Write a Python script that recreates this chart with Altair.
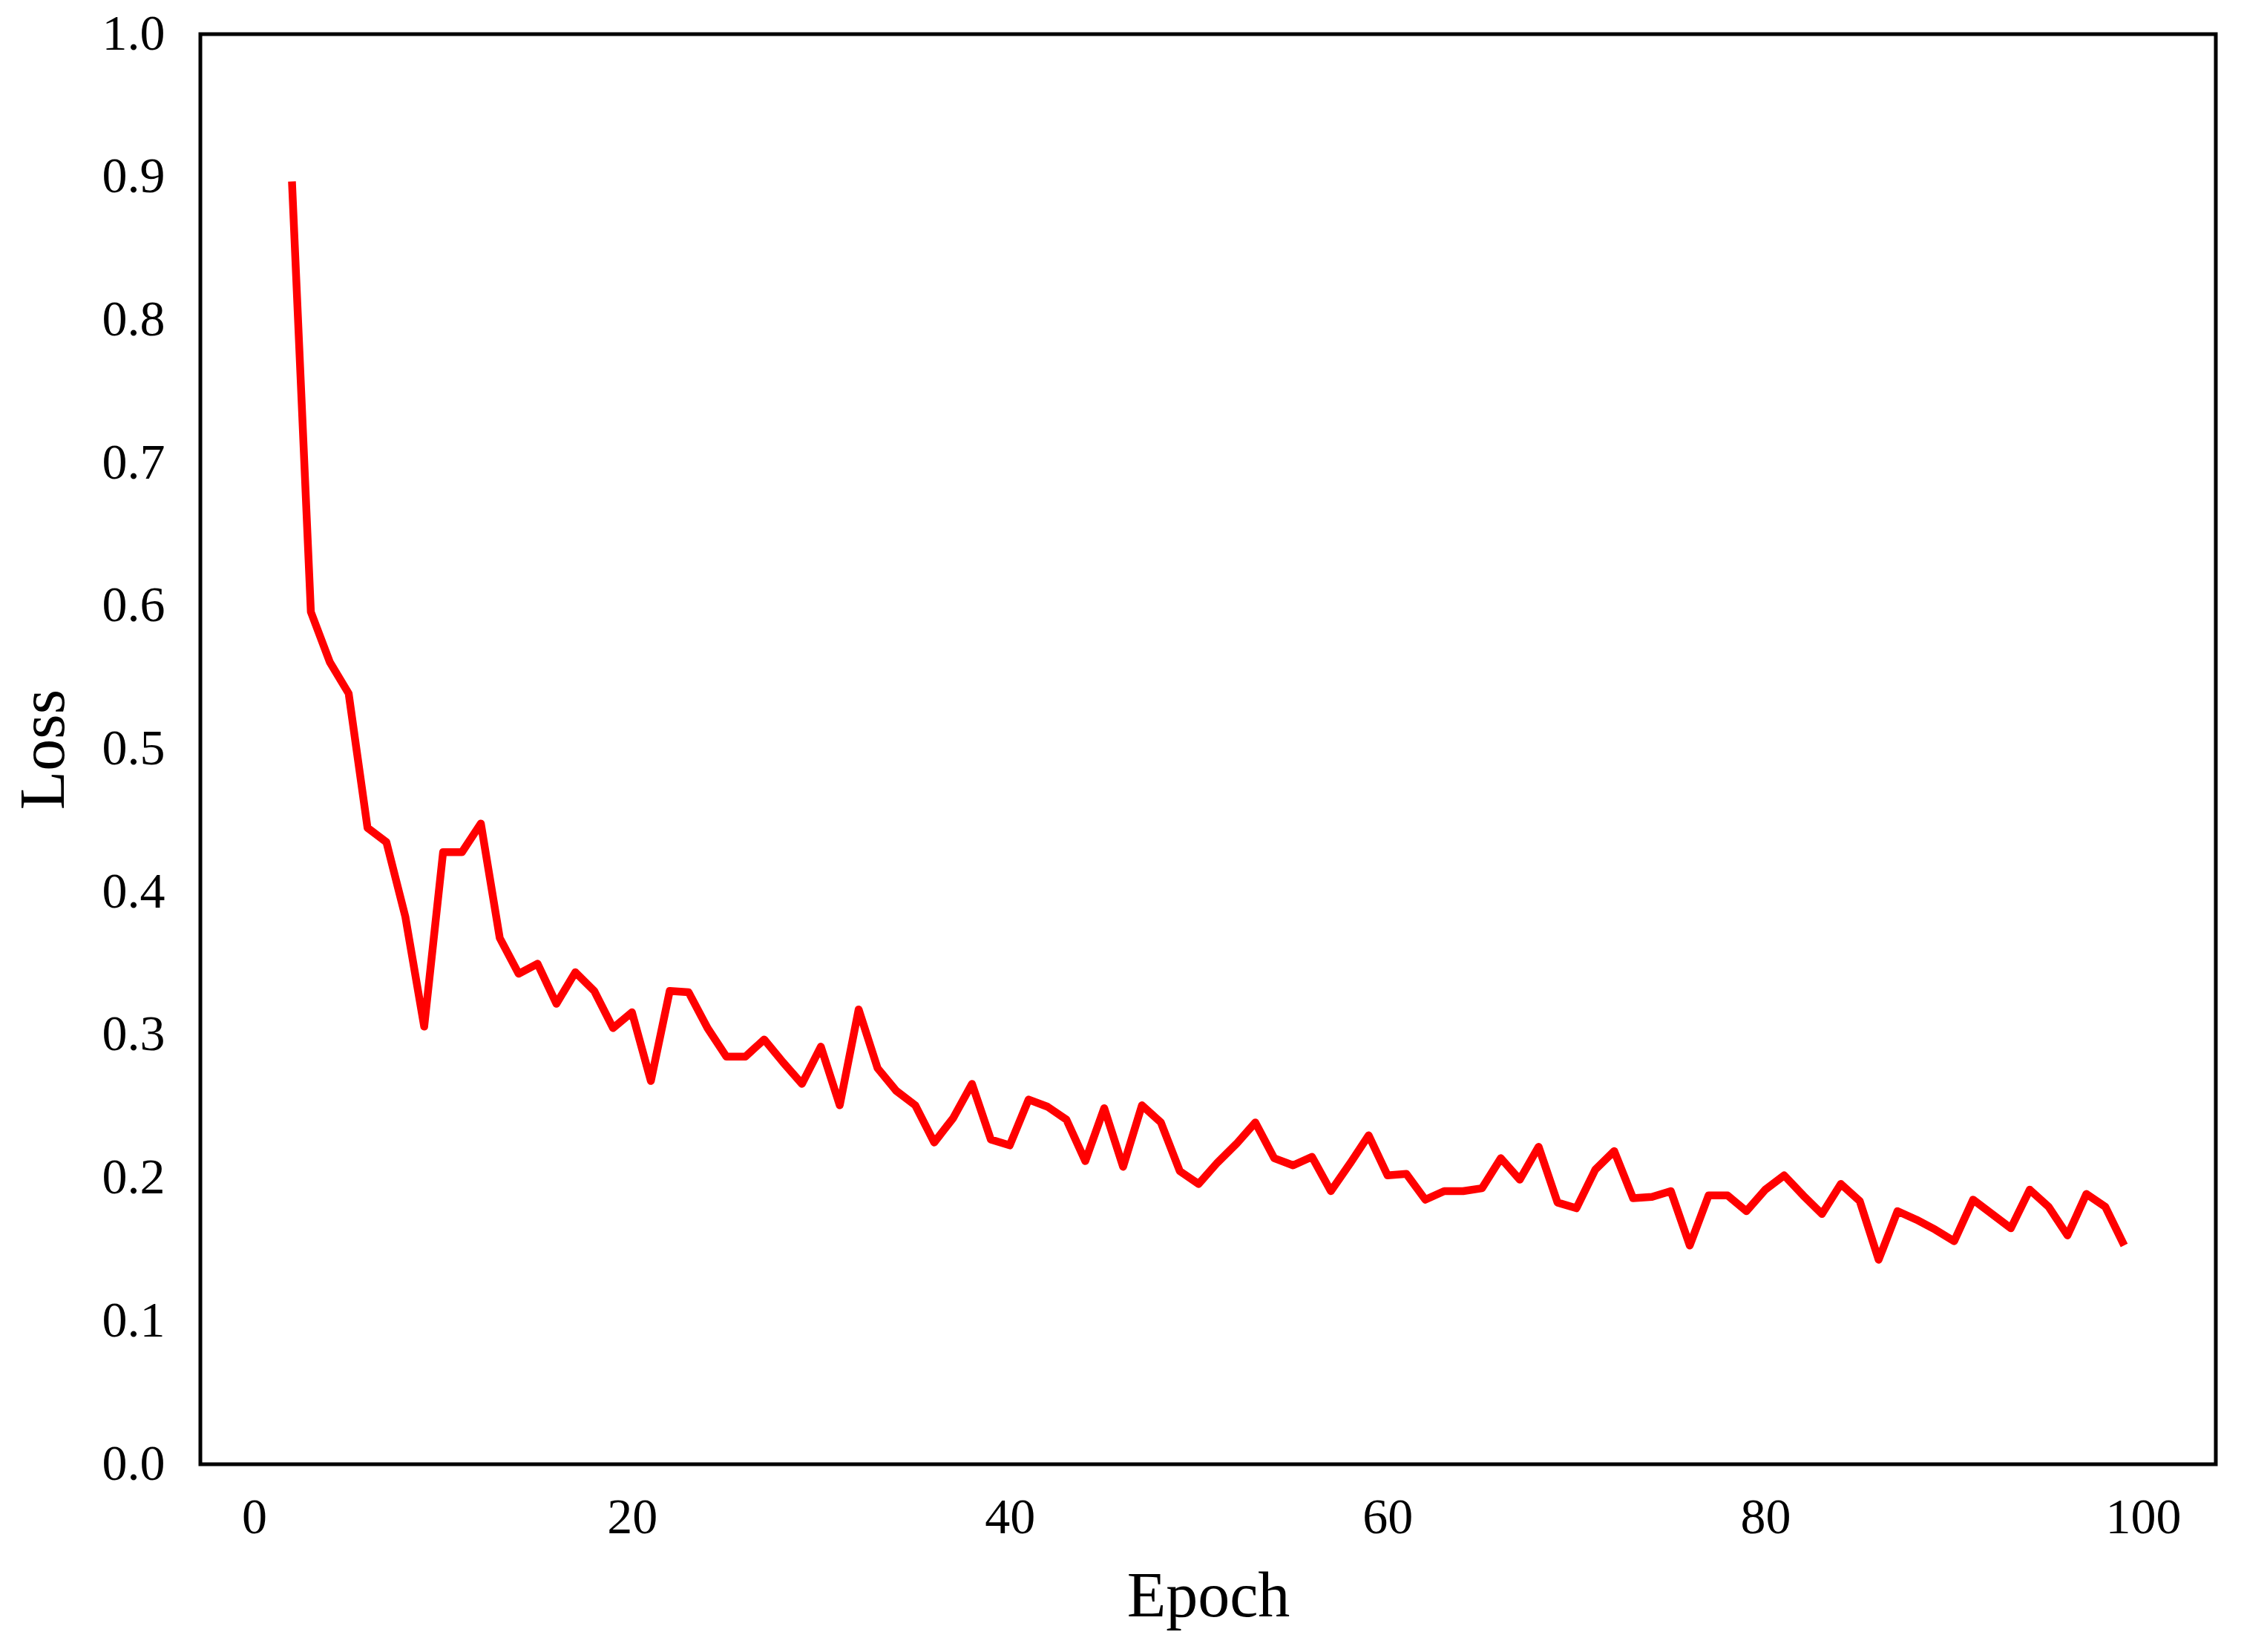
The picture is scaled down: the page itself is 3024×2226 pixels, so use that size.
import altair as alt
import pandas as pd

epochs = list(range(2, 100))
loss = [
    0.897, 0.596, 0.561, 0.539, 0.445, 0.435, 0.383, 0.306, 0.428, 0.428,
    0.448, 0.368, 0.343, 0.350, 0.322, 0.344, 0.331, 0.305, 0.316, 0.268,
    0.331, 0.330, 0.305, 0.285, 0.285, 0.297, 0.281, 0.266, 0.292, 0.251,
    0.318, 0.277, 0.261, 0.251, 0.225, 0.242, 0.266, 0.227, 0.223, 0.255,
    0.250, 0.241, 0.212, 0.249, 0.208, 0.251, 0.239, 0.205, 0.196, 0.211,
    0.224, 0.239, 0.214, 0.209, 0.215, 0.191, 0.210, 0.230, 0.202, 0.203,
    0.185, 0.191, 0.191, 0.193, 0.214, 0.199, 0.222, 0.183, 0.179, 0.206,
    0.219, 0.186, 0.187, 0.191, 0.153, 0.188, 0.188, 0.177, 0.192, 0.202,
    0.188, 0.175, 0.196, 0.184, 0.143, 0.177, 0.171, 0.164, 0.156, 0.185,
    0.175, 0.165, 0.192, 0.180, 0.160, 0.189, 0.180, 0.153,
]
x_ticks = [0, 20, 40, 60, 80, 100]
y_ticks = [0.0, 0.1, 0.2, 0.3, 0.4, 0.5, 0.6, 0.7, 0.8, 0.9, 1.0]

df = pd.DataFrame({"Epoch": epochs, "Loss": loss})

FONT = "Liberation Serif"

chart = (
    alt.Chart(df)
    .mark_line(color="#ff0000", strokeWidth=10.5, strokeJoin="round", strokeCap="butt")
    .encode(
        x=alt.X(
            "Epoch:Q",
            scale=alt.Scale(domain=[-2.85, 103.85], nice=False, zero=False),
            axis=alt.Axis(
                values=x_ticks,
                format="d",
                title="Epoch",
                labelPadding=38,
                titlePadding=30,
            ),
        ),
        y=alt.Y(
            "Loss:Q",
            scale=alt.Scale(domain=[0, 1], nice=False),
            axis=alt.Axis(
                values=y_ticks,
                format=".1f",
                title="Loss",
                labelPadding=48,
                titlePadding=34,
            ),
        ),
    )
    .properties(
        width=2716,
        height=1927,
        background="white",
        autosize=alt.AutoSizeParams(type="none"),
        padding={"left": 262, "top": 38, "right": 30, "bottom": 240},
    )
    .configure_view(stroke="black", strokeWidth=5, fill="white")
    .configure_axis(
        grid=False,
        domain=False,
        ticks=False,
        labelFont=FONT,
        labelFontSize=68,
        labelColor="black",
        titleFont=FONT,
        titleFontSize=86,
        titleFontWeight="normal",
        titleColor="black",
    )
)

chart.save("out.html", embed_options={"renderer": "svg", "actions": False})
